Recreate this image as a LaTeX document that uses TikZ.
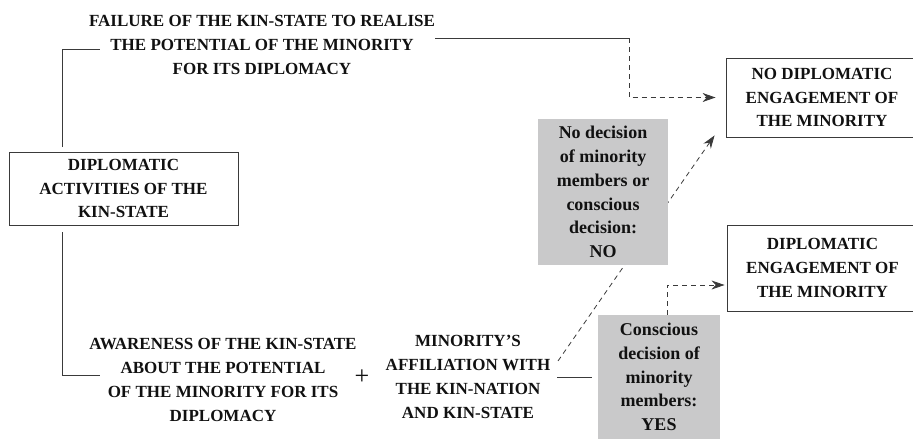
\documentclass[tikz,border=0pt]{standalone}
\usepackage{fontspec}
\setmainfont{Liberation Serif}
\usetikzlibrary{arrows.meta}
\definecolor{lineclr}{HTML}{3A3A3A}
\definecolor{greyfill}{HTML}{C9C9CA}
\definecolor{txtclr}{HTML}{111111}
\begin{document}
\begin{tikzpicture}[x=1pt,y=-1pt,
  txt/.style={align=center, text=txtclr, inner sep=0pt, font=\bfseries\fontsize{17}{23.8}\selectfont},
  whitebox/.style={txt, draw=lineclr, line width=0.9pt, inner sep=0pt},
  greybox/.style={txt, fill=greyfill, inner sep=0pt, font=\bfseries\fontsize{18}{23.8}\selectfont},
  conn/.style={draw=lineclr, line width=0.8pt},
  dconn/.style={conn, dash pattern=on 5pt off 4pt},
  tip/.style={-{Stealth[length=13pt,width=9pt]}}
]
\useasboundingbox (0,0) rectangle (913,439);

% nodes
\node[txt] (fail) at (262,45) {FAILURE OF THE KIN-STATE TO REALISE\\THE POTENTIAL OF THE MINORITY\\FOR ITS DIPLOMACY};
\node[whitebox, minimum width=229pt, minimum height=73pt] (act) at (123.5,188.5) {DIPLOMATIC\\ACTIVITIES OF THE\\KIN-STATE};
\node[whitebox, minimum width=192pt, minimum height=79pt] (nodip) at (822,97.5) {NO DIPLOMATIC\\ENGAGEMENT OF\\THE MINORITY};
\node[whitebox, minimum width=191pt, minimum height=86pt] (dip) at (822.5,268) {DIPLOMATIC\\ENGAGEMENT OF\\THE MINORITY};
\node[txt] (aware) at (223,380) {AWARENESS OF THE KIN-STATE\\ABOUT THE POTENTIAL\\OF THE MINORITY FOR ITS\\DIPLOMACY};
\node[txt, font=\fontsize{26}{26}\selectfont] (plus) at (362,377) {+};
\node[txt] (aff) at (468,377) {MINORITY’S\\AFFILIATION WITH\\THE KIN-NATION\\AND KIN-STATE};

% coordinates
\coordinate (a1) at (62,147);
\coordinate (f1) at (100,49);
\coordinate (a2) at (62,232);
\coordinate (w1) at (100,375);
\coordinate (f2) at (435,38);
\coordinate (f3) at (629,38);
\coordinate (m1) at (557,377);
\coordinate (m2) at (592,377);
\coordinate (d1) at (558,361);
\coordinate (y1) at (667,315);

% connectors
\draw[conn] (a1) |- (f1);
\draw[conn] (a2) |- (w1);
\draw[conn] (f2) -- (f3);
\draw[dconn, tip] (f3) |- ([xshift=-10pt]nodip.west);
\draw[conn] (m1) -- (m2);
\draw[dconn, tip] (d1) -- ([xshift=-11pt,yshift=2pt]nodip.south west);

% grey decision boxes (drawn over the diagonal)
\node[greybox, minimum width=130pt, minimum height=146pt] (no) at (603,192) {No decision\\of minority\\members or\\conscious\\decision:\\NO};
\node[greybox, minimum width=122pt, minimum height=124pt] (yes) at (659,377) {Conscious\\decision of\\minority\\members:\\YES};

\draw[dconn, tip] (yes.north -| y1) |- ([xshift=-2pt]dip.west |- 0,285);
\end{tikzpicture}
\end{document}
